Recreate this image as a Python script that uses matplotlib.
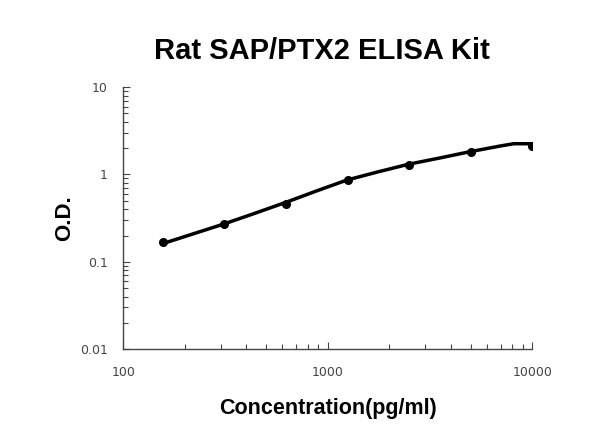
import matplotlib
matplotlib.use("Agg")
import matplotlib.pyplot as plt
from matplotlib.ticker import LogLocator, NullFormatter, FixedLocator, FixedFormatter

# standard points (pg/ml vs O.D.)
conc = [156.25, 312.5, 625, 1250, 2500, 5000, 10000]
od = [0.169, 0.27, 0.454, 0.863, 1.29, 1.82, 2.12]

# fitted curve
curve_x = [154, 309, 438, 623, 885, 1240, 1757, 2483, 3508, 4943, 6985, 8110, 10000]
curve_y = [0.160, 0.270, 0.358, 0.479, 0.650, 0.863, 1.07, 1.31, 1.54, 1.82, 2.12, 2.25, 2.25]

xticks = [100, 1000, 10000]
xlabels = ["100", "1000", "10000"]
yticks = [0.01, 0.1, 1, 10]
ylabels = ["0.01", "0.1", "1", "10"]

fig = plt.figure(figsize=(6, 4.47), dpi=100)
ax = fig.add_axes([0.2055, 0.219, 0.6815, 0.586])

ax.plot(curve_x, curve_y, color="black", lw=2.5, solid_capstyle="round")
ax.plot(conc, od, "o", color="black", ms=5.5)

ax.set_xscale("log")
ax.set_yscale("log")
ax.set_xlim(100, 10000)
ax.set_ylim(0.01, 10)

ax.xaxis.set_major_locator(FixedLocator(xticks))
ax.xaxis.set_major_formatter(FixedFormatter(xlabels))
ax.yaxis.set_major_locator(FixedLocator(yticks))
ax.yaxis.set_major_formatter(FixedFormatter(ylabels))
ax.xaxis.set_minor_locator(LogLocator(base=10, subs=range(2, 10)))
ax.yaxis.set_minor_locator(LogLocator(base=10, subs=range(2, 10)))
ax.xaxis.set_minor_formatter(NullFormatter())
ax.yaxis.set_minor_formatter(NullFormatter())

for s in ["top", "right"]:
    ax.spines[s].set_visible(False)
for s in ["left", "bottom"]:
    ax.spines[s].set_color("#444444")
    ax.spines[s].set_linewidth(1.0)

ax.tick_params(which="both", direction="in", color="#444444", width=0.8,
               labelsize=9, labelcolor="#444444")
ax.tick_params(which="major", length=5)
ax.tick_params(which="minor", length=3.5)
ax.tick_params(axis="x", pad=12)
ax.tick_params(axis="y", pad=11)

fig.text(0.537, 0.885, "Rat SAP/PTX2 ELISA Kit", ha="center", va="center",
         fontsize=21, fontweight="bold", family="Liberation Sans")
ax.set_xlabel("Concentration(pg/ml)", fontsize=15.5, fontweight="bold",
              family="Liberation Sans", labelpad=14)
ax.set_ylabel("O.D.", fontsize=16, fontweight="bold", family="Liberation Sans")
ax.yaxis.set_label_coords(-0.118, 0.5)

fig.savefig("out.png", dpi=100)
